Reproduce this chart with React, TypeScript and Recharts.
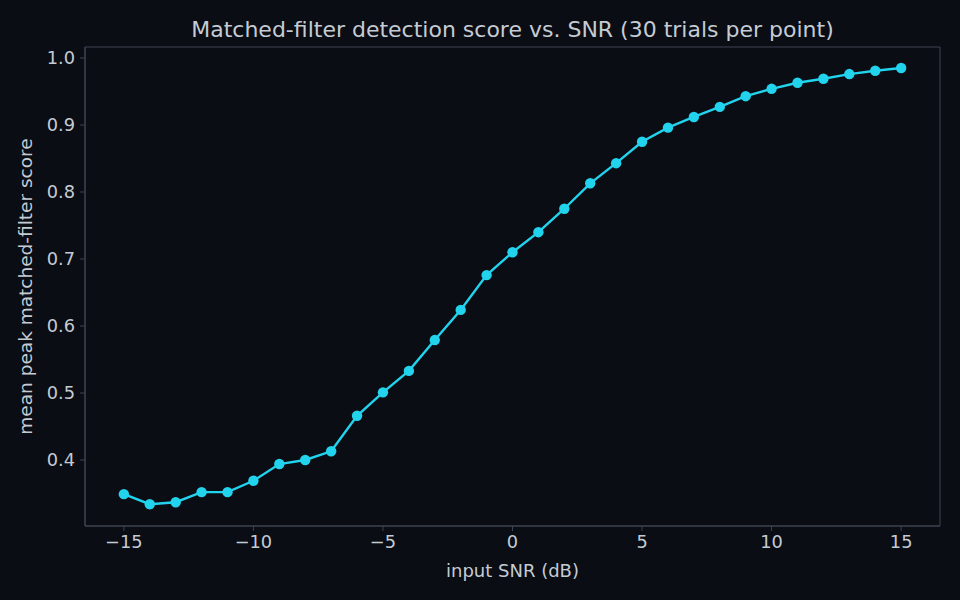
import { LineChart, Line, XAxis, YAxis, ReferenceArea, Label } from "recharts";

const snrDb = [
  -15, -14, -13, -12, -11, -10, -9, -8, -7, -6, -5, -4, -3, -2, -1, 0, 1, 2, 3, 4, 5, 6, 7, 8, 9, 10,
  11, 12, 13, 14, 15,
];
const meanScore = [
  0.349, 0.334, 0.337, 0.352, 0.352, 0.369, 0.394, 0.4, 0.413, 0.466, 0.501, 0.533, 0.579, 0.624,
  0.676, 0.71, 0.74, 0.775, 0.813, 0.843, 0.875, 0.896, 0.912, 0.927, 0.943, 0.954, 0.963, 0.969,
  0.976, 0.981, 0.985,
];
const xTicks = [-15, -10, -5, 0, 5, 10, 15];
const yTicks = [0.4, 0.5, 0.6, 0.7, 0.8, 0.9, 1.0];

const X_DOMAIN: [number, number] = [-16.5, 16.5];
const Y_DOMAIN: [number, number] = [0.3015, 1.0164];

const BG = "#0a0d14";
const FRAME = "#3d4452";
const TEXT = "#c5cbd3";
const CYAN = "#22d3ee";
const FONT = "'DejaVu Sans', sans-serif";

const minus = (v: number) => (v < 0 ? `\u2212${Math.abs(v)}` : `${v}`);

export default function App() {
  const data = snrDb.map((x, i) => ({ x, y: meanScore[i] }));

  return (
    <div
      style={{
        position: "absolute",
        left: 0,
        top: 0,
        width: 960,
        height: 600,
        background: BG,
        fontFamily: FONT,
      }}
    >
      <div
        style={{
          position: "absolute",
          top: 16,
          left: 85,
          width: 855,
          textAlign: "center",
          color: TEXT,
          fontSize: 22,
          lineHeight: "28px",
        }}
      >
        Matched-filter detection score vs. SNR (30 trials per point)
      </div>
      <LineChart
        width={960}
        height={600}
        data={data}
        margin={{ top: 47, right: 20, bottom: 0, left: 0 }}
      >
        <XAxis
          dataKey="x"
          type="number"
          domain={X_DOMAIN}
          ticks={xTicks}
          tickFormatter={minus}
          allowDataOverflow
          height={74}
          stroke={FRAME}
          tickSize={5}
          tick={{ fill: TEXT, fontSize: 17.8, fontFamily: FONT }}
          tickMargin={4}
        >
          <Label
            value="input SNR (dB)"
            position="insideBottom"
            offset={23}
            style={{ fill: TEXT, fontSize: 18, fontFamily: FONT }}
          />
        </XAxis>
        <YAxis
          type="number"
          domain={Y_DOMAIN}
          ticks={yTicks}
          tickFormatter={(v: number) => v.toFixed(1)}
          allowDataOverflow
          width={85}
          stroke={FRAME}
          tickSize={5}
          tick={{ fill: TEXT, fontSize: 17.8, fontFamily: FONT }}
          tickMargin={5}
        >
          <Label
            value="mean peak matched-filter score"
            angle={-90}
            position="insideLeft"
            offset={25}
            style={{ fill: TEXT, fontSize: 18.5, fontFamily: FONT, textAnchor: "middle" }}
          />
        </YAxis>
        <ReferenceArea
          x1={X_DOMAIN[0]}
          x2={X_DOMAIN[1]}
          y1={Y_DOMAIN[0]}
          y2={Y_DOMAIN[1]}
          fill="none"
          stroke={FRAME}
          strokeWidth={1}
        />
        <Line
          dataKey="y"
          stroke={CYAN}
          strokeWidth={2.4}
          dot={{ r: 5.2, fill: CYAN, stroke: CYAN, strokeWidth: 0 }}
          activeDot={false}
          isAnimationActive={false}
        />
      </LineChart>
    </div>
  );
}
